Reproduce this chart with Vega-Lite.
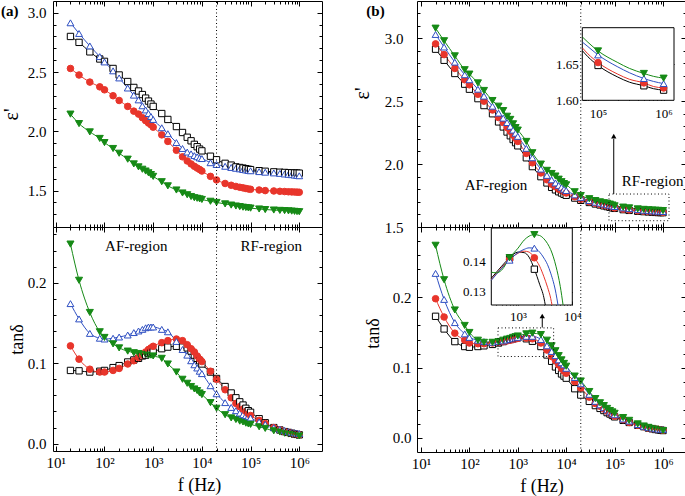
{
"$schema": "https://vega.github.io/schema/vega-lite/v6.json",
"padding": {"left": 0, "top": 0, "right": 0, "bottom": 0},
"background": "white",
"config": {
 "view": {"stroke": "black", "strokeWidth": 1},
 "font": "Liberation Serif",
 "axis": {"labelFont": "Liberation Serif", "labelFontSize": 15, "labelColor": "black", "titleFont": "Liberation Serif", "titleFontSize": 18, "titleFontWeight": "normal", "titleColor": "black", "tickColor": "black", "tickWidth": 1, "domain": false, "grid": false, "labelFlush": false, "labelOverlap": false},
 "legend": {"titleFont": "Liberation Serif", "titleFontSize": 15, "titleFontWeight": "normal", "titleColor": "black", "labelFont": "Liberation Serif", "labelFontSize": 15, "labelColor": "black"},
 "text": {"font": "Liberation Serif"}
},
"datasets": {
 "ae": [
{"f":20,"0":2.8,"1":2.53,"3":2.915,"5":2.145},
{"f":30,"0":2.75,"1":2.475,"3":2.825,"5":2.065},
{"f":50,"0":2.67,"1":2.415,"3":2.72,"5":1.995},
{"f":80,"0":2.61,"1":2.375,"3":2.63,"5":1.94},
{"f":100,"0":2.59,"1":2.35,"3":2.585,"5":1.905},
{"f":150,"0":2.53,"1":2.3,"3":2.51,"5":1.855},
{"f":200,"0":2.475,"1":2.26,"3":2.45,"5":1.815},
{"f":300,"0":2.42,"1":2.21,"3":2.365,"5":1.765},
{"f":400,"0":2.37,"1":2.17,"3":2.305,"5":1.725},
{"f":500,"0":2.34,"1":2.145,"3":2.265,"5":1.7},
{"f":600,"0":2.31,"1":2.115,"3":2.215,"5":1.68},
{"f":700,"0":2.28,"1":2.09,"3":2.18,"5":1.665},
{"f":800,"0":2.255,"1":2.07,"3":2.15,"5":1.65},
{"f":900,"0":2.23,"1":2.055,"3":2.125,"5":1.635},
{"f":1000,"0":2.21,"1":2.035,"3":2.1,"5":1.62},
{"f":1500,"0":2.15,"1":1.97,"3":2.03,"5":1.575},
{"f":2000,"0":2.1,"1":1.915,"3":1.98,"5":1.54},
{"f":3000,"0":2.04,"1":1.84,"3":1.905,"5":1.505},
{"f":4000,"0":1.99,"1":1.785,"3":1.855,"5":1.48},
{"f":5000,"0":1.95,"1":1.75,"3":1.825,"5":1.465},
{"f":6000,"0":1.92,"1":1.725,"3":1.81,"5":1.45},
{"f":7000,"0":1.89,"1":1.705,"3":1.795,"5":1.44},
{"f":8000,"0":1.87,"1":1.69,"3":1.785,"5":1.435},
{"f":9000,"0":1.85,"1":1.678,"3":1.775,"5":1.43},
{"f":10000,"0":1.835,"1":1.665,"3":1.77,"5":1.425},
{"f":15000,"0":1.79,"1":1.62,"3":1.735,"5":1.41},
{"f":20000,"0":1.76,"1":1.59,"3":1.72,"5":1.4},
{"f":30000,"0":1.73,"1":1.56,"3":1.705,"5":1.388},
{"f":40000,"0":1.715,"1":1.545,"3":1.695,"5":1.378},
{"f":50000,"0":1.7,"1":1.535,"3":1.688,"5":1.37},
{"f":60000,"0":1.695,"1":1.528,"3":1.683,"5":1.365},
{"f":70000,"0":1.69,"1":1.523,"3":1.678,"5":1.36},
{"f":80000,"0":1.685,"1":1.518,"3":1.674,"5":1.357},
{"f":90000,"0":1.68,"1":1.514,"3":1.67,"5":1.354},
{"f":100000,"0":1.677,"1":1.511,"3":1.667,"5":1.352},
{"f":150000,"0":1.668,"1":1.505,"3":1.66,"5":1.345},
{"f":200000,"0":1.663,"1":1.5,"3":1.655,"5":1.34},
{"f":300000,"0":1.658,"1":1.497,"3":1.649,"5":1.336},
{"f":400000,"0":1.655,"1":1.494,"3":1.645,"5":1.333},
{"f":500000,"0":1.653,"1":1.492,"3":1.64,"5":1.331},
{"f":600000,"0":1.651,"1":1.49,"3":1.637,"5":1.329},
{"f":700000,"0":1.65,"1":1.489,"3":1.634,"5":1.327},
{"f":800000,"0":1.649,"1":1.488,"3":1.631,"5":1.325},
{"f":900000,"0":1.648,"1":1.487,"3":1.628,"5":1.323},
{"f":1000000,"0":1.647,"1":1.486,"3":1.625,"5":1.322}
 ],
 "at": [
{"f":20,"0":0.091,"1":0.1215,"3":0.174,"5":0.248},
{"f":30,"0":0.0905,"1":0.105,"3":0.155,"5":0.203},
{"f":50,"0":0.089,"1":0.0925,"3":0.137,"5":0.163},
{"f":80,"0":0.09,"1":0.089,"3":0.131,"5":0.139},
{"f":100,"0":0.091,"1":0.089,"3":0.13,"5":0.132},
{"f":150,"0":0.0945,"1":0.091,"3":0.131,"5":0.124},
{"f":200,"0":0.097,"1":0.0935,"3":0.1325,"5":0.119},
{"f":300,"0":0.1015,"1":0.099,"3":0.135,"5":0.115},
{"f":400,"0":0.104,"1":0.103,"3":0.138,"5":0.113},
{"f":500,"0":0.106,"1":0.107,"3":0.14,"5":0.112},
{"f":600,"0":0.109,"1":0.11,"3":0.142,"5":0.111},
{"f":700,"0":0.11,"1":0.114,"3":0.144,"5":0.111},
{"f":800,"0":0.112,"1":0.117,"3":0.145,"5":0.11},
{"f":900,"0":0.113,"1":0.119,"3":0.145,"5":0.11},
{"f":1000,"0":0.114,"1":0.121,"3":0.145,"5":0.109},
{"f":1500,"0":0.118,"1":0.1255,"3":0.142,"5":0.106},
{"f":2000,"0":0.12,"1":0.128,"3":0.139,"5":0.099},
{"f":3000,"0":0.121,"1":0.13,"3":0.127,"5":0.089},
{"f":4000,"0":0.12,"1":0.128,"3":0.117,"5":0.08},
{"f":5000,"0":0.119,"1":0.123,"3":0.11,"5":0.075},
{"f":6000,"0":0.115,"1":0.118,"3":0.103,"5":0.071},
{"f":7000,"0":0.11,"1":0.114,"3":0.098,"5":0.068},
{"f":8000,"0":0.106,"1":0.109,"3":0.094,"5":0.066},
{"f":9000,"0":0.103,"1":0.105,"3":0.09,"5":0.063},
{"f":10000,"0":0.099,"1":0.102,"3":0.087,"5":0.061},
{"f":15000,"0":0.089,"1":0.09,"3":0.072,"5":0.051},
{"f":20000,"0":0.081,"1":0.08,"3":0.062,"5":0.044},
{"f":30000,"0":0.071,"1":0.067,"3":0.051,"5":0.036},
{"f":40000,"0":0.063,"1":0.057,"3":0.045,"5":0.032},
{"f":50000,"0":0.057,"1":0.05,"3":0.041,"5":0.03},
{"f":60000,"0":0.052,"1":0.046,"3":0.038,"5":0.028},
{"f":70000,"0":0.048,"1":0.043,"3":0.036,"5":0.027},
{"f":80000,"0":0.044,"1":0.04,"3":0.035,"5":0.0255},
{"f":90000,"0":0.041,"1":0.037,"3":0.034,"5":0.0245},
{"f":100000,"0":0.039,"1":0.035,"3":0.032,"5":0.024},
{"f":150000,"0":0.031,"1":0.029,"3":0.027,"5":0.021},
{"f":200000,"0":0.026,"1":0.025,"3":0.024,"5":0.019},
{"f":300000,"0":0.02,"1":0.02,"3":0.02,"5":0.016},
{"f":400000,"0":0.017,"1":0.017,"3":0.018,"5":0.0145},
{"f":500000,"0":0.015,"1":0.015,"3":0.0165,"5":0.013},
{"f":600000,"0":0.014,"1":0.014,"3":0.015,"5":0.012},
{"f":700000,"0":0.013,"1":0.013,"3":0.014,"5":0.0115},
{"f":800000,"0":0.012,"1":0.012,"3":0.0135,"5":0.011},
{"f":900000,"0":0.0115,"1":0.0115,"3":0.013,"5":0.0102},
{"f":1000000,"0":0.011,"1":0.011,"3":0.0125,"5":0.0096}
 ],
 "be": [
{"f":20,"30":2.913,"40":2.955,"50":3.03,"60":3.08},
{"f":30,"30":2.825,"40":2.87,"50":2.93,"60":2.98},
{"f":50,"30":2.72,"40":2.76,"50":2.81,"60":2.86},
{"f":80,"30":2.635,"40":2.67,"50":2.71,"60":2.75},
{"f":100,"30":2.595,"40":2.63,"50":2.67,"60":2.715},
{"f":150,"30":2.52,"40":2.555,"50":2.595,"60":2.645},
{"f":200,"30":2.465,"40":2.5,"50":2.54,"60":2.585},
{"f":300,"30":2.4,"40":2.43,"50":2.46,"60":2.505},
{"f":400,"30":2.335,"40":2.37,"50":2.405,"60":2.46},
{"f":500,"30":2.295,"40":2.33,"50":2.365,"60":2.425},
{"f":600,"30":2.255,"40":2.29,"50":2.33,"60":2.38},
{"f":700,"30":2.225,"40":2.26,"50":2.3,"60":2.355},
{"f":800,"30":2.195,"40":2.23,"50":2.27,"60":2.32},
{"f":900,"30":2.17,"40":2.205,"50":2.245,"60":2.29},
{"f":1000,"30":2.145,"40":2.18,"50":2.22,"60":2.27},
{"f":1500,"30":2.05,"40":2.085,"50":2.125,"60":2.18},
{"f":2000,"30":1.98,"40":2.01,"50":2.05,"60":2.09},
{"f":3000,"30":1.9,"40":1.93,"50":1.96,"60":2.0},
{"f":4000,"30":1.85,"40":1.875,"50":1.91,"60":1.95},
{"f":5000,"30":1.815,"40":1.84,"50":1.875,"60":1.925},
{"f":6000,"30":1.795,"40":1.82,"50":1.85,"60":1.905},
{"f":7000,"30":1.78,"40":1.8,"50":1.83,"60":1.88},
{"f":8000,"30":1.77,"40":1.79,"50":1.815,"60":1.86},
{"f":9000,"30":1.76,"40":1.78,"50":1.8,"60":1.845},
{"f":10000,"30":1.752,"40":1.77,"50":1.79,"60":1.835},
{"f":15000,"30":1.73,"40":1.74,"50":1.755,"60":1.78},
{"f":20000,"30":1.712,"40":1.72,"50":1.735,"60":1.75},
{"f":30000,"30":1.695,"40":1.7,"50":1.71,"60":1.725},
{"f":40000,"30":1.683,"40":1.688,"50":1.697,"60":1.71},
{"f":50000,"30":1.675,"40":1.679,"50":1.69,"60":1.7},
{"f":60000,"30":1.668,"40":1.672,"50":1.683,"60":1.693},
{"f":70000,"30":1.662,"40":1.666,"50":1.677,"60":1.688},
{"f":80000,"30":1.657,"40":1.661,"50":1.672,"60":1.682},
{"f":90000,"30":1.652,"40":1.656,"50":1.667,"60":1.675},
{"f":100000,"30":1.648,"40":1.652,"50":1.6625,"60":1.668},
{"f":150000,"30":1.638,"40":1.642,"50":1.652,"60":1.658},
{"f":200000,"30":1.632,"40":1.636,"50":1.646,"60":1.652},
{"f":300000,"30":1.625,"40":1.629,"50":1.638,"60":1.644},
{"f":400000,"30":1.622,"40":1.626,"50":1.633,"60":1.64},
{"f":500000,"30":1.62,"40":1.624,"50":1.63,"60":1.637},
{"f":600000,"30":1.618,"40":1.621,"50":1.628,"60":1.635},
{"f":700000,"30":1.616,"40":1.619,"50":1.626,"60":1.633},
{"f":800000,"30":1.615,"40":1.618,"50":1.625,"60":1.632},
{"f":900000,"30":1.6145,"40":1.6175,"50":1.624,"60":1.631},
{"f":1000000,"30":1.614,"40":1.617,"50":1.623,"60":1.6305}
 ],
 "bt": [
{"f":20,"30":0.173,"40":0.198,"50":0.234,"60":0.274},
{"f":30,"30":0.155,"40":0.172,"50":0.197,"60":0.225},
{"f":50,"30":0.137,"40":0.149,"50":0.164,"60":0.182},
{"f":80,"30":0.13,"40":0.139,"50":0.148,"60":0.16},
{"f":100,"30":0.129,"40":0.135,"50":0.143,"60":0.15},
{"f":150,"30":0.13,"40":0.134,"50":0.139,"60":0.139},
{"f":200,"30":0.131,"40":0.134,"50":0.137,"60":0.136},
{"f":300,"30":0.133,"40":0.135,"50":0.136,"60":0.136},
{"f":400,"30":0.135,"40":0.136,"50":0.137,"60":0.137},
{"f":500,"30":0.137,"40":0.137,"50":0.138,"60":0.139},
{"f":600,"30":0.139,"40":0.138,"50":0.139,"60":0.1405},
{"f":700,"30":0.14,"40":0.139,"50":0.14,"60":0.1415},
{"f":800,"30":0.141,"40":0.14,"50":0.141,"60":0.143},
{"f":900,"30":0.142,"40":0.141,"50":0.142,"60":0.144},
{"f":1000,"30":0.1425,"40":0.1415,"50":0.143,"60":0.145},
{"f":1500,"30":0.141,"40":0.142,"50":0.1445,"60":0.148},
{"f":2000,"30":0.1375,"40":0.141,"50":0.1445,"60":0.149},
{"f":3000,"30":0.13,"40":0.135,"50":0.14,"60":0.147},
{"f":4000,"30":0.118,"40":0.125,"50":0.131,"60":0.139},
{"f":5000,"30":0.109,"40":0.116,"50":0.123,"60":0.131},
{"f":6000,"30":0.101,"40":0.11,"50":0.117,"60":0.124},
{"f":7000,"30":0.096,"40":0.104,"50":0.111,"60":0.117},
{"f":8000,"30":0.091,"40":0.099,"50":0.107,"60":0.111},
{"f":9000,"30":0.088,"40":0.095,"50":0.104,"60":0.106},
{"f":10000,"30":0.085,"40":0.092,"50":0.099,"60":0.102},
{"f":15000,"30":0.07,"40":0.08,"50":0.086,"60":0.088},
{"f":20000,"30":0.061,"40":0.071,"50":0.077,"60":0.081},
{"f":30000,"30":0.052,"40":0.058,"50":0.062,"60":0.066},
{"f":40000,"30":0.046,"40":0.049,"50":0.052,"60":0.056},
{"f":50000,"30":0.042,"40":0.045,"50":0.047,"60":0.05},
{"f":60000,"30":0.039,"40":0.041,"50":0.043,"60":0.046},
{"f":70000,"30":0.036,"40":0.038,"50":0.04,"60":0.042},
{"f":80000,"30":0.034,"40":0.035,"50":0.037,"60":0.039},
{"f":90000,"30":0.032,"40":0.033,"50":0.035,"60":0.037},
{"f":100000,"30":0.03,"40":0.031,"50":0.033,"60":0.035},
{"f":150000,"30":0.025,"40":0.026,"50":0.027,"60":0.029},
{"f":200000,"30":0.022,"40":0.022,"50":0.024,"60":0.025},
{"f":300000,"30":0.018,"40":0.018,"50":0.019,"60":0.02},
{"f":400000,"30":0.016,"40":0.016,"50":0.0165,"60":0.017},
{"f":500000,"30":0.014,"40":0.014,"50":0.015,"60":0.015},
{"f":600000,"30":0.013,"40":0.013,"50":0.014,"60":0.0135},
{"f":700000,"30":0.012,"40":0.0125,"50":0.013,"60":0.0125},
{"f":800000,"30":0.0115,"40":0.012,"50":0.0125,"60":0.0118},
{"f":900000,"30":0.011,"40":0.0115,"50":0.012,"60":0.011},
{"f":1000000,"30":0.0105,"40":0.011,"50":0.012,"60":0.0105}
 ],
 "ie": [
{"f":58000,"30":1.668,"40":1.672,"50":1.68,"60":1.687},
{"f":70000,"30":1.66,"40":1.664,"50":1.674,"60":1.68},
{"f":100000,"30":1.648,"40":1.652,"50":1.6625,"60":1.668},
{"f":200000,"30":1.632,"40":1.636,"50":1.646,"60":1.652},
{"f":300000,"30":1.625,"40":1.629,"50":1.638,"60":1.644},
{"f":500000,"30":1.62,"40":1.624,"50":1.63,"60":1.637},
{"f":700000,"30":1.616,"40":1.619,"50":1.626,"60":1.633},
{"f":1000000,"30":1.614,"40":1.617,"50":1.623,"60":1.6305}
 ],
 "it": [
{"f":322,"30":0.1345,"40":0.134,"50":0.1338,"60":0.1365},
{"f":400,"30":0.1365,"40":0.136,"50":0.1358,"60":0.1363},
{"f":500,"30":0.1385,"40":0.138,"50":0.1378,"60":0.1372},
{"f":700,"30":0.1413,"40":0.1408,"50":0.1405,"60":0.1413},
{"f":1000,"30":0.1432,"40":0.1428,"50":0.143,"60":0.1445},
{"f":1300,"30":0.143,"40":0.1435,"50":0.1441,"60":0.1472},
{"f":1600,"30":0.1415,"40":0.1432,"50":0.1446,"60":0.1485},
{"f":2000,"30":0.1375,"40":0.1413,"50":0.1445,"60":0.149},
{"f":2500,"30":0.1325,"40":0.1385,"50":0.1432,"60":0.1487},
{"f":3000,"30":0.128,"40":0.135,"50":0.1412,"60":0.1476},
{"f":3180,"30":0.1256,"40":null,"50":null,"60":null},
{"f":3500,"30":null,"40":0.1315,"50":0.139,"60":0.146},
{"f":4000,"30":null,"40":0.1278,"50":0.1362,"60":0.144},
{"f":4230,"30":null,"40":0.1256,"50":null,"60":null},
{"f":5000,"30":null,"40":null,"50":0.1295,"60":0.1385},
{"f":5450,"30":null,"40":null,"50":0.1256,"60":null},
{"f":6000,"30":null,"40":null,"50":null,"60":0.1318},
{"f":6760,"30":null,"40":null,"50":null,"60":0.1256}
 ]
},
"spacing": 28,
"resolve": {"scale": {"stroke": "independent", "fill": "independent", "shape": "independent", "size": "independent"}},
"hconcat": [
{
 "spacing": 0, "bounds": "flush",
 "resolve": {"scale": {"stroke": "independent", "fill": "independent", "shape": "independent", "size": "independent"}},
 "vconcat": [
 {
  "width": 269, "height": 226,
  "resolve": {"scale": {"x": "independent", "y": "independent"}},
  "layer": [
   {
    "data": {"name": "ae"},
    "transform": [{"fold": ["0","1","3","5"], "as": ["s","v"]}],
    "mark": {"type": "line", "strokeWidth": 1, "interpolate": "monotone"},
    "encoding": {
     "x": {"field": "f", "type": "quantitative", "scale": {"type": "log", "domain": [8.76, 2930000], "nice": false}, "axis": {"orient": "bottom", "values": [10,100,1000,10000,100000,1000000], "tickSize": -5, "labels": false, "title": null}},
     "y": {"field": "v", "type": "quantitative", "scale": {"domain": [1.193, 3.099], "nice": false, "zero": false}, "axis": {"orient": "left", "values": [1.5,2,2.5,3], "format": ".1f", "tickSize": -5, "labelPadding": 12, "title": "ε'", "titleFontSize": 20, "titlePadding": 6}},
     "stroke": {"field": "s", "type": "nominal", "scale": {"domain": ["0","1","3","5"], "range": ["#000000","#e8352b","#2e4fc2","#168a16"]}, "legend": null}
    }
   },
   {
    "data": {"name": "ae"},
    "transform": [{"fold": ["0","1","3","5"], "as": ["s","v"]}],
    "mark": {"type": "point", "opacity": 1, "strokeWidth": 1},
    "encoding": {
     "x": {"field": "f", "type": "quantitative", "scale": {"type": "log", "domain": [8.76, 2930000], "nice": false}, "axis": {"orient": "bottom", "values": [20,30,40,50,60,70,80,90,200,300,400,500,600,700,800,900,2000,3000,4000,5000,6000,7000,8000,9000,20000,30000,40000,50000,60000,70000,80000,90000,200000,300000,400000,500000,600000,700000,800000,900000], "tickSize": -3, "labels": false, "title": null}},
     "y": {"field": "v", "type": "quantitative", "scale": {"domain": [1.193, 3.099], "nice": false, "zero": false}, "axis": {"orient": "left", "values": [1.3,1.4,1.6,1.7,1.8,1.9,2.1,2.2,2.3,2.4,2.6,2.7,2.8,2.9], "tickSize": -3, "labels": false, "title": null}},
     "stroke": {"field": "s", "type": "nominal", "scale": {"domain": ["0","1","3","5"], "range": ["#000000","#e8352b","#2e4fc2","#168a16"]}, "legend": null},
     "fill": {"field": "s", "type": "nominal", "scale": {"domain": ["0","1","3","5"], "range": ["#ffffff","#e8352b","#ffffff","#168a16"]}, "legend": null},
     "size": {"field": "s", "type": "nominal", "scale": {"domain": ["0","1","3","5"], "range": [40,50,65,65]}, "legend": null},
     "shape": {"field": "s", "type": "nominal", "scale": {"domain": ["0","1","3","5"], "range": ["square","circle","triangle-up","triangle-down"]},
      "legend": {"orient": "none", "legendX": 224, "legendY": 14.5, "title": "x (wt%)", "titleAnchor": "middle", "titlePadding": 0, "labelOffset": 16, "rowPadding": 3.3, "symbolSize": 64, "padding": 0,
       "encode": {"symbols": {"update": {
        "shape": {"signal": "datum.value === '0' ? 'M-3.5,0H-1M1,0H3.5M-1,-1H1V1H-1Z' : datum.value === '1' ? 'M-3.5,0H3.5M-1.05,0A1.05,1.05,0,1,1,1.05,0A1.05,1.05,0,1,1,-1.05,0Z' : datum.value === '3' ? 'M-3.5,0H-0.63M0.63,0H3.5M-1.15,0.9L0,-1.1L1.15,0.9Z' : 'M-3.5,0H3.5M-1.15,-0.9L0,1.1L1.15,-0.9Z'"},
        "fill": {"signal": "datum.value === '1' ? '#e8352b' : datum.value === '5' ? '#168a16' : '#ffffff'"},
        "stroke": {"signal": "datum.value === '0' ? '#000000' : datum.value === '1' ? '#e8352b' : datum.value === '3' ? '#2e4fc2' : '#168a16'"},
        "strokeWidth": {"value": 1}, "size": {"value": 64}, "opacity": {"value": 1}}}}}}
    }
   },
   {
    "data": {"values": [{"f": 20000}]},
    "mark": {"type": "rule", "color": "black", "strokeWidth": 1, "strokeDash": [1, 2.5]},
    "encoding": {
     "x": {"field": "f", "type": "quantitative", "scale": {"type": "log", "domain": [8.76, 2930000], "nice": false}, "axis": {"orient": "top", "values": [10,100,1000,10000,100000,1000000], "tickSize": -5, "labels": false, "title": null}},
     "y": {"datum": 1.193, "type": "quantitative", "scale": {"domain": [1.193, 3.099], "nice": false, "zero": false}, "axis": {"orient": "right", "values": [1.5,2,2.5,3], "tickSize": -5, "labels": false, "title": null}},
     "y2": {"datum": 3.099}
    }
   },
   {
    "data": {"values": [{"label": "(a)", "f": 1.135, "v": 3.014}]},
    "mark": {"type": "text", "fontSize": 15, "fontWeight": "bold", "font": "Liberation Serif", "baseline": "middle", "align": "center"},
    "encoding": {
     "x": {"field": "f", "type": "quantitative", "scale": {"type": "log", "domain": [8.76, 2930000], "nice": false}, "axis": {"orient": "top", "values": [20,30,40,50,60,70,80,90,200,300,400,500,600,700,800,900,2000,3000,4000,5000,6000,7000,8000,9000,20000,30000,40000,50000,60000,70000,80000,90000,200000,300000,400000,500000,600000,700000,800000,900000], "tickSize": -3, "labels": false, "title": null}},
     "y": {"field": "v", "type": "quantitative", "scale": {"domain": [1.193, 3.099], "nice": false, "zero": false}, "axis": {"orient": "right", "values": [1.3,1.4,1.6,1.7,1.8,1.9,2.1,2.2,2.3,2.4,2.6,2.7,2.8,2.9], "tickSize": -3, "labels": false, "title": null}},
     "text": {"field": "label"}
    }
   }
  ]
 },
 {
  "width": 269, "height": 224,
  "resolve": {"scale": {"x": "independent", "y": "independent"}},
  "layer": [
   {
    "data": {"name": "at"},
    "transform": [{"fold": ["0","1","3","5"], "as": ["s","v"]}],
    "mark": {"type": "line", "strokeWidth": 1, "interpolate": "monotone"},
    "encoding": {
     "x": {"field": "f", "type": "quantitative", "scale": {"type": "log", "domain": [8.76, 2930000], "nice": false}, "axis": {"orient": "bottom", "values": [10,100,1000,10000,100000,1000000], "tickSize": -5, "labelPadding": 9, "labelExpr": "'10' + ['⁰','¹','²','³','⁴','⁵','⁶','⁷'][round(log(datum.value)/LN10)]", "title": "f (Hz)", "titleX": 146, "titlePadding": 6}},
     "y": {"field": "v", "type": "quantitative", "scale": {"domain": [-0.0091, 0.2692], "nice": false, "zero": false}, "axis": {"orient": "left", "values": [0,0.1,0.2], "format": ".1f", "tickSize": -5, "labelPadding": 12, "title": "tanδ", "titlePadding": 1}},
     "stroke": {"field": "s", "type": "nominal", "scale": {"domain": ["0","1","3","5"], "range": ["#000000","#e8352b","#2e4fc2","#168a16"]}, "legend": null}
    }
   },
   {
    "data": {"name": "at"},
    "transform": [{"fold": ["0","1","3","5"], "as": ["s","v"]}],
    "mark": {"type": "point", "opacity": 1, "strokeWidth": 1},
    "encoding": {
     "x": {"field": "f", "type": "quantitative", "scale": {"type": "log", "domain": [8.76, 2930000], "nice": false}, "axis": {"orient": "bottom", "values": [20,30,40,50,60,70,80,90,200,300,400,500,600,700,800,900,2000,3000,4000,5000,6000,7000,8000,9000,20000,30000,40000,50000,60000,70000,80000,90000,200000,300000,400000,500000,600000,700000,800000,900000], "tickSize": -3, "labels": false, "title": null}},
     "y": {"field": "v", "type": "quantitative", "scale": {"domain": [-0.0091, 0.2692], "nice": false, "zero": false}, "axis": {"orient": "left", "values": [0.02,0.04,0.06,0.08,0.12,0.14,0.16,0.18,0.22,0.24,0.26], "tickSize": -3, "labels": false, "title": null}},
     "stroke": {"field": "s", "type": "nominal", "scale": {"domain": ["0","1","3","5"], "range": ["#000000","#e8352b","#2e4fc2","#168a16"]}, "legend": null},
     "fill": {"field": "s", "type": "nominal", "scale": {"domain": ["0","1","3","5"], "range": ["#ffffff","#e8352b","#ffffff","#168a16"]}, "legend": null},
     "size": {"field": "s", "type": "nominal", "scale": {"domain": ["0","1","3","5"], "range": [40,50,65,65]}, "legend": null},
     "shape": {"field": "s", "type": "nominal", "scale": {"domain": ["0","1","3","5"], "range": ["square","circle","triangle-up","triangle-down"]}, "legend": null}
    }
   },
   {
    "data": {"values": [{"f": 20000}]},
    "mark": {"type": "rule", "color": "black", "strokeWidth": 1, "strokeDash": [1, 2.5]},
    "encoding": {
     "x": {"field": "f", "type": "quantitative", "scale": {"type": "log", "domain": [8.76, 2930000], "nice": false}, "axis": {"orient": "top", "values": [10,100,1000,10000,100000,1000000], "tickSize": -5, "labels": false, "title": null}},
     "y": {"datum": -0.0091, "type": "quantitative", "scale": {"domain": [-0.0091, 0.2692], "nice": false, "zero": false}, "axis": {"orient": "right", "values": [0,0.1,0.2], "tickSize": -5, "labels": false, "title": null}},
     "y2": {"datum": 0.2692}
    }
   },
   {
    "data": {"values": [{"label": "AF-region", "f": 450, "v": 0.2456}, {"label": "RF-region", "f": 266000, "v": 0.2456}]},
    "mark": {"type": "text", "fontSize": 15, "font": "Liberation Serif", "baseline": "middle", "align": "center"},
    "encoding": {
     "x": {"field": "f", "type": "quantitative", "scale": {"type": "log", "domain": [8.76, 2930000], "nice": false}, "axis": {"orient": "top", "values": [20,30,40,50,60,70,80,90,200,300,400,500,600,700,800,900,2000,3000,4000,5000,6000,7000,8000,9000,20000,30000,40000,50000,60000,70000,80000,90000,200000,300000,400000,500000,600000,700000,800000,900000], "tickSize": -3, "labels": false, "title": null}},
     "y": {"field": "v", "type": "quantitative", "scale": {"domain": [-0.0091, 0.2692], "nice": false, "zero": false}, "axis": {"orient": "right", "values": [0.02,0.04,0.06,0.08,0.12,0.14,0.16,0.18,0.22,0.24,0.26], "tickSize": -3, "labels": false, "title": null}},
     "text": {"field": "label"}
    }
   }
  ]
 }
 ]
},
{
 "spacing": 0, "bounds": "flush",
 "resolve": {"scale": {"stroke": "independent", "fill": "independent", "shape": "independent", "size": "independent"}},
 "vconcat": [
 {
  "width": 269, "height": 226,
  "resolve": {"scale": {"x": "independent", "y": "independent"}},
  "layer": [
   {
    "data": {"name": "be"},
    "transform": [{"fold": ["30","40","50","60"], "as": ["s","v"]}],
    "mark": {"type": "line", "strokeWidth": 1, "interpolate": "monotone"},
    "encoding": {
     "x": {"field": "f", "type": "quantitative", "scale": {"type": "log", "domain": [8.27, 2985000], "nice": false}, "axis": {"orient": "bottom", "values": [10,100,1000,10000,100000,1000000], "tickSize": -5, "labels": false, "title": null}},
     "y": {"field": "v", "type": "quantitative", "scale": {"domain": [1.5, 3.296], "nice": false, "zero": false}, "axis": {"orient": "left", "values": [1.5,2,2.5,3], "format": ".1f", "tickSize": -5, "labelPadding": 19, "title": "ε'", "titleFontSize": 20, "titlePadding": 12, "titleY": 92}},
     "stroke": {"field": "s", "type": "nominal", "scale": {"domain": ["30","40","50","60"], "range": ["#000000","#e8352b","#2e4fc2","#168a16"]}, "legend": null}
    }
   },
   {
    "data": {"name": "be"},
    "transform": [{"fold": ["30","40","50","60"], "as": ["s","v"]}],
    "mark": {"type": "point", "opacity": 1, "strokeWidth": 1},
    "encoding": {
     "x": {"field": "f", "type": "quantitative", "scale": {"type": "log", "domain": [8.27, 2985000], "nice": false}, "axis": {"orient": "bottom", "values": [20,30,40,50,60,70,80,90,200,300,400,500,600,700,800,900,2000,3000,4000,5000,6000,7000,8000,9000,20000,30000,40000,50000,60000,70000,80000,90000,200000,300000,400000,500000,600000,700000,800000,900000], "tickSize": -3, "labels": false, "title": null}},
     "y": {"field": "v", "type": "quantitative", "scale": {"domain": [1.5, 3.296], "nice": false, "zero": false}, "axis": {"orient": "left", "values": [1.6,1.7,1.8,1.9,2.1,2.2,2.3,2.4,2.6,2.7,2.8,2.9,3.1,3.2], "tickSize": -3, "labels": false, "title": null}},
     "stroke": {"field": "s", "type": "nominal", "scale": {"domain": ["30","40","50","60"], "range": ["#000000","#e8352b","#2e4fc2","#168a16"]}, "legend": null},
     "fill": {"field": "s", "type": "nominal", "scale": {"domain": ["30","40","50","60"], "range": ["#ffffff","#e8352b","#ffffff","#168a16"]}, "legend": null},
     "size": {"field": "s", "type": "nominal", "scale": {"domain": ["30","40","50","60"], "range": [40,50,65,65]}, "legend": null},
     "shape": {"field": "s", "type": "nominal", "scale": {"domain": ["30","40","50","60"], "range": ["square","circle","triangle-up","triangle-down"]}, "legend": null}
    }
   },
   {
    "data": {"values": [{"f": 20000}]},
    "mark": {"type": "rule", "color": "black", "strokeWidth": 1, "strokeDash": [1, 2.5]},
    "encoding": {
     "x": {"field": "f", "type": "quantitative", "scale": {"type": "log", "domain": [8.27, 2985000], "nice": false}, "axis": {"orient": "top", "values": [10,100,1000,10000,100000,1000000], "tickSize": -5, "labels": false, "title": null}},
     "y": {"datum": 1.5, "type": "quantitative", "scale": {"domain": [1.5, 3.296], "nice": false, "zero": false}, "axis": {"orient": "right", "values": [1.5,2,2.5,3], "tickSize": -5, "labels": false, "title": null}},
     "y2": {"datum": 3.296}
    }
   },
   {
    "data": {"values": [{"label": "AF-region", "f": 355, "v": 1.836}, {"label": "RF-region", "f": 612000, "v": 1.867}]},
    "mark": {"type": "text", "fontSize": 15, "font": "Liberation Serif", "baseline": "middle", "align": "center"},
    "encoding": {
     "x": {"field": "f", "type": "quantitative", "scale": {"type": "log", "domain": [8.27, 2985000], "nice": false}, "axis": {"orient": "top", "values": [20,30,40,50,60,70,80,90,200,300,400,500,600,700,800,900,2000,3000,4000,5000,6000,7000,8000,9000,20000,30000,40000,50000,60000,70000,80000,90000,200000,300000,400000,500000,600000,700000,800000,900000], "tickSize": -3, "labels": false, "title": null}},
     "y": {"field": "v", "type": "quantitative", "scale": {"domain": [1.5, 3.296], "nice": false, "zero": false}, "axis": {"orient": "right", "values": [1.6,1.7,1.8,1.9,2.1,2.2,2.3,2.4,2.6,2.7,2.8,2.9,3.1,3.2], "tickSize": -3, "labels": false, "title": null}},
     "text": {"field": "label"}
    }
   },
   {
    "data": {"values": [{"label": "(b)", "f": 1.15, "v": 3.217}]},
    "mark": {"type": "text", "fontSize": 15, "fontWeight": "bold", "font": "Liberation Serif", "baseline": "middle", "align": "center"},
    "encoding": {
     "x": {"field": "f", "type": "quantitative", "scale": {"type": "log", "domain": [8.27, 2985000], "nice": false}, "axis": null},
     "y": {"field": "v", "type": "quantitative", "scale": {"domain": [1.5, 3.296], "nice": false, "zero": false}, "axis": null},
     "text": {"field": "label"}
    }
   },
   {
    "data": {"values": [{"f1": 76500, "f2": 1330000, "v1": 1.55, "v2": 1.762}]},
    "mark": {"type": "rect", "filled": false, "stroke": "black", "strokeWidth": 1, "strokeDash": [1, 2.5]},
    "encoding": {
     "x": {"field": "f1", "type": "quantitative", "scale": {"type": "log", "domain": [8.27, 2985000], "nice": false}, "axis": null},
     "x2": {"field": "f2"},
     "y": {"field": "v1", "type": "quantitative", "scale": {"domain": [1.5, 3.296], "nice": false, "zero": false}, "axis": null},
     "y2": {"field": "v2"}
    }
   },
   {
    "data": {"values": [{"f": 96000, "v1": 1.762, "v2": 2.2}]},
    "mark": {"type": "rule", "color": "black", "strokeWidth": 1},
    "encoding": {
     "x": {"field": "f", "type": "quantitative", "scale": {"type": "log", "domain": [8.27, 2985000], "nice": false}, "axis": null},
     "y": {"field": "v1", "type": "quantitative", "scale": {"domain": [1.5, 3.296], "nice": false, "zero": false}, "axis": null},
     "y2": {"field": "v2"}
    }
   },
   {
    "data": {"values": [{"f": 96000, "v": 2.222}]},
    "mark": {"type": "point", "shape": "triangle-up", "filled": true, "color": "black", "size": 28, "opacity": 1},
    "encoding": {
     "x": {"field": "f", "type": "quantitative", "scale": {"type": "log", "domain": [8.27, 2985000], "nice": false}, "axis": null},
     "y": {"field": "v", "type": "quantitative", "scale": {"domain": [1.5, 3.296], "nice": false, "zero": false}, "axis": null}
    }
   },
   {
    "data": {"values": [{"f1": 57500, "f2": 1440000, "v1": 1.6, "v2": 1.7}]},
    "mark": {"type": "rect", "fill": "white", "stroke": "black", "strokeWidth": 1},
    "encoding": {
     "x": {"field": "f1", "type": "quantitative", "scale": {"type": "log", "domain": [57500, 1440000], "range": [165.3, 257], "nice": false}, "axis": {"orient": "top", "offset": -26.7, "values": [100000, 1000000], "tickSize": -4, "labels": false, "title": null}},
     "x2": {"field": "f2"},
     "y": {"field": "v1", "type": "quantitative", "scale": {"domain": [1.6, 1.7], "range": [99.3, 26.7], "nice": false, "zero": false}, "axis": {"orient": "right", "offset": -12, "values": [1.65], "tickSize": -4, "labels": false, "title": null}},
     "y2": {"field": "v2"}
    }
   },
   {
    "data": {"name": "ie"},
    "transform": [{"fold": ["30","40","50","60"], "as": ["s","v"]}],
    "mark": {"type": "line", "strokeWidth": 1, "interpolate": "monotone"},
    "encoding": {
     "x": {"field": "f", "type": "quantitative", "scale": {"type": "log", "domain": [57500, 1440000], "range": [165.3, 257], "nice": false}, "axis": {"orient": "bottom", "offset": -126.7, "values": [100000, 1000000], "tickSize": -4, "labelPadding": 11, "labelFontSize": 13, "labelExpr": "'10' + ['⁰','¹','²','³','⁴','⁵','⁶','⁷'][round(log(datum.value)/LN10)]", "title": null}},
     "y": {"field": "v", "type": "quantitative", "scale": {"domain": [1.6, 1.7], "range": [99.3, 26.7], "nice": false, "zero": false}, "axis": {"orient": "left", "offset": -165.3, "values": [1.6, 1.65], "format": ".2f", "tickSize": -4, "labelPadding": 8, "labelFontSize": 13, "title": null}},
     "stroke": {"field": "s", "type": "nominal", "scale": {"domain": ["30","40","50","60"], "range": ["#000000","#e8352b","#2e4fc2","#168a16"]}, "legend": null}
    }
   },
   {
    "data": {"name": "ie"},
    "transform": [{"fold": ["30","40","50","60"], "as": ["s","v"]}, {"filter": "datum.f === 100000 || datum.f === 500000 || datum.f === 1000000"}],
    "mark": {"type": "point", "opacity": 1, "strokeWidth": 1},
    "encoding": {
     "x": {"field": "f", "type": "quantitative", "scale": {"type": "log", "domain": [57500, 1440000], "range": [165.3, 257], "nice": false}, "axis": {"orient": "bottom", "offset": -126.7, "values": [60000,70000,80000,90000,200000,300000,400000,500000,600000,700000,800000,900000], "tickSize": -2.5, "labels": false, "title": null}},
     "y": {"field": "v", "type": "quantitative", "scale": {"domain": [1.6, 1.7], "range": [99.3, 26.7], "nice": false, "zero": false}, "axis": {"orient": "left", "offset": -165.3, "values": [1.6125,1.625,1.6375,1.6625,1.675,1.6875], "tickSize": -2.5, "labels": false, "title": null}},
     "stroke": {"field": "s", "type": "nominal", "scale": {"domain": ["30","40","50","60"], "range": ["#000000","#e8352b","#2e4fc2","#168a16"]}, "legend": null},
     "fill": {"field": "s", "type": "nominal", "scale": {"domain": ["30","40","50","60"], "range": ["#ffffff","#e8352b","#ffffff","#168a16"]}, "legend": null},
     "size": {"field": "s", "type": "nominal", "scale": {"domain": ["30","40","50","60"], "range": [40,50,65,65]}, "legend": null},
     "shape": {"field": "s", "type": "nominal", "scale": {"domain": ["30","40","50","60"], "range": ["square","circle","triangle-up","triangle-down"]}, "legend": null}
    }
   }
  ]
 },
 {
  "width": 269, "height": 225,
  "resolve": {"scale": {"x": "independent", "y": "independent"}},
  "layer": [
   {
    "data": {"name": "bt"},
    "transform": [{"fold": ["30","40","50","60"], "as": ["s","v"]}],
    "mark": {"type": "line", "strokeWidth": 1, "interpolate": "monotone"},
    "encoding": {
     "x": {"field": "f", "type": "quantitative", "scale": {"type": "log", "domain": [8.27, 2985000], "nice": false}, "axis": {"orient": "bottom", "values": [10,100,1000,10000,100000,1000000], "tickSize": -5, "labelPadding": 9, "labelExpr": "'10' + ['⁰','¹','²','³','⁴','⁵','⁶','⁷'][round(log(datum.value)/LN10)]", "title": "f (Hz)", "titleX": 124.5, "titlePadding": 6}},
     "y": {"field": "v", "type": "quantitative", "scale": {"domain": [-0.02, 0.3], "nice": false, "zero": false}, "axis": {"orient": "left", "values": [0,0.1,0.2], "format": ".1f", "tickSize": -5, "labelPadding": 11, "title": "tanδ", "titlePadding": 10, "titleY": 106}},
     "stroke": {"field": "s", "type": "nominal", "scale": {"domain": ["30","40","50","60"], "range": ["#000000","#e8352b","#2e4fc2","#168a16"]}, "legend": null}
    }
   },
   {
    "data": {"name": "bt"},
    "transform": [{"fold": ["30","40","50","60"], "as": ["s","v"]}],
    "mark": {"type": "point", "opacity": 1, "strokeWidth": 1},
    "encoding": {
     "x": {"field": "f", "type": "quantitative", "scale": {"type": "log", "domain": [8.27, 2985000], "nice": false}, "axis": {"orient": "bottom", "values": [20,30,40,50,60,70,80,90,200,300,400,500,600,700,800,900,2000,3000,4000,5000,6000,7000,8000,9000,20000,30000,40000,50000,60000,70000,80000,90000,200000,300000,400000,500000,600000,700000,800000,900000], "tickSize": -3, "labels": false, "title": null}},
     "y": {"field": "v", "type": "quantitative", "scale": {"domain": [-0.02, 0.3], "nice": false, "zero": false}, "axis": {"orient": "left", "values": [0.02,0.04,0.06,0.08,0.12,0.14,0.16,0.18,0.22,0.24,0.26,0.28], "tickSize": -3, "labels": false, "title": null}},
     "stroke": {"field": "s", "type": "nominal", "scale": {"domain": ["30","40","50","60"], "range": ["#000000","#e8352b","#2e4fc2","#168a16"]}, "legend": null},
     "fill": {"field": "s", "type": "nominal", "scale": {"domain": ["30","40","50","60"], "range": ["#ffffff","#e8352b","#ffffff","#168a16"]}, "legend": null},
     "size": {"field": "s", "type": "nominal", "scale": {"domain": ["30","40","50","60"], "range": [40,50,65,65]}, "legend": null},
     "shape": {"field": "s", "type": "nominal", "scale": {"domain": ["30","40","50","60"], "range": ["square","circle","triangle-up","triangle-down"]},
      "legend": {"orient": "none", "legendX": 222, "legendY": 13.5, "title": "T (°C)", "titleAnchor": "middle", "titlePadding": 0, "labelOffset": 16, "rowPadding": 1.7, "symbolSize": 64, "padding": 0,
       "encode": {"symbols": {"update": {
        "shape": {"signal": "datum.value === '30' ? 'M-3.5,0H-1M1,0H3.5M-1,-1H1V1H-1Z' : datum.value === '40' ? 'M-3.5,0H3.5M-1.05,0A1.05,1.05,0,1,1,1.05,0A1.05,1.05,0,1,1,-1.05,0Z' : datum.value === '50' ? 'M-3.5,0H-0.63M0.63,0H3.5M-1.15,0.9L0,-1.1L1.15,0.9Z' : 'M-3.5,0H3.5M-1.15,-0.9L0,1.1L1.15,-0.9Z'"},
        "fill": {"signal": "datum.value === '40' ? '#e8352b' : datum.value === '60' ? '#168a16' : '#ffffff'"},
        "stroke": {"signal": "datum.value === '30' ? '#000000' : datum.value === '40' ? '#e8352b' : datum.value === '50' ? '#2e4fc2' : '#168a16'"},
        "strokeWidth": {"value": 1}, "size": {"value": 64}, "opacity": {"value": 1}}}}}}
    }
   },
   {
    "data": {"values": [{"f": 20000}]},
    "mark": {"type": "rule", "color": "black", "strokeWidth": 1, "strokeDash": [1, 2.5]},
    "encoding": {
     "x": {"field": "f", "type": "quantitative", "scale": {"type": "log", "domain": [8.27, 2985000], "nice": false}, "axis": {"orient": "top", "values": [10,100,1000,10000,100000,1000000], "tickSize": -5, "labels": false, "title": null}},
     "y": {"datum": -0.02, "type": "quantitative", "scale": {"domain": [-0.02, 0.3], "nice": false, "zero": false}, "axis": {"orient": "right", "values": [0,0.1,0.2], "tickSize": -5, "labels": false, "title": null}},
     "y2": {"datum": 0.3}
    }
   },
   {
    "data": {"values": [{"f1": 390, "f2": 5500, "v1": 0.1158, "v2": 0.1565}]},
    "mark": {"type": "rect", "filled": false, "stroke": "black", "strokeWidth": 1, "strokeDash": [1, 2.5]},
    "encoding": {
     "x": {"field": "f1", "type": "quantitative", "scale": {"type": "log", "domain": [8.27, 2985000], "nice": false}, "axis": {"orient": "top", "values": [20,30,40,50,60,70,80,90,200,300,400,500,600,700,800,900,2000,3000,4000,5000,6000,7000,8000,9000,20000,30000,40000,50000,60000,70000,80000,90000,200000,300000,400000,500000,600000,700000,800000,900000], "tickSize": -3, "labels": false, "title": null}},
     "x2": {"field": "f2"},
     "y": {"field": "v1", "type": "quantitative", "scale": {"domain": [-0.02, 0.3], "nice": false, "zero": false}, "axis": {"orient": "right", "values": [0.02,0.04,0.06,0.08,0.12,0.14,0.16,0.18,0.22,0.24,0.26,0.28], "tickSize": -3, "labels": false, "title": null}},
     "y2": {"field": "v2"}
    }
   },
   {
    "data": {"values": [{"f": 3200, "v1": 0.157, "v2": 0.171}]},
    "mark": {"type": "rule", "color": "black", "strokeWidth": 1},
    "encoding": {
     "x": {"field": "f", "type": "quantitative", "scale": {"type": "log", "domain": [8.27, 2985000], "nice": false}, "axis": null},
     "y": {"field": "v1", "type": "quantitative", "scale": {"domain": [-0.02, 0.3], "nice": false, "zero": false}, "axis": null},
     "y2": {"field": "v2"}
    }
   },
   {
    "data": {"values": [{"f": 3200, "v": 0.1735}]},
    "mark": {"type": "point", "shape": "triangle-up", "filled": true, "color": "black", "size": 28, "opacity": 1},
    "encoding": {
     "x": {"field": "f", "type": "quantitative", "scale": {"type": "log", "domain": [8.27, 2985000], "nice": false}, "axis": null},
     "y": {"field": "v", "type": "quantitative", "scale": {"domain": [-0.02, 0.3], "nice": false, "zero": false}, "axis": null}
    }
   },
   {
    "data": {"values": [{"f1": 322, "f2": 10000, "v1": 0.1256, "v2": 0.1512}]},
    "mark": {"type": "rect", "fill": "white", "stroke": "black", "strokeWidth": 1},
    "encoding": {
     "x": {"field": "f1", "type": "quantitative", "scale": {"type": "log", "domain": [322, 10000], "range": [74.3, 155.3], "nice": false}, "axis": {"orient": "top", "offset": -1, "values": [1000], "tickSize": -4, "labels": false, "title": null}},
     "x2": {"field": "f2"},
     "y": {"field": "v1", "type": "quantitative", "scale": {"domain": [0.1256, 0.1512], "range": [78, 1], "nice": false, "zero": false}, "axis": {"orient": "right", "offset": -113.7, "values": [0.13, 0.14], "tickSize": -4, "labels": false, "title": null}},
     "y2": {"field": "v2"}
    }
   },
   {
    "data": {"name": "it"},
    "transform": [{"fold": ["30","40","50","60"], "as": ["s","v"]}, {"filter": "isValid(datum.v)"}],
    "mark": {"type": "line", "strokeWidth": 1, "interpolate": "monotone"},
    "encoding": {
     "x": {"field": "f", "type": "quantitative", "scale": {"type": "log", "domain": [322, 10000], "range": [74.3, 155.3], "nice": false}, "axis": {"orient": "bottom", "offset": -147, "values": [1000, 10000], "tickSize": -4, "labelPadding": 9, "labelFontSize": 13, "labelExpr": "'10' + ['⁰','¹','²','³','⁴','⁵','⁶','⁷'][round(log(datum.value)/LN10)]", "title": null}},
     "y": {"field": "v", "type": "quantitative", "scale": {"domain": [0.1256, 0.1512], "range": [78, 1], "nice": false, "zero": false}, "axis": {"orient": "left", "offset": -74.3, "values": [0.13, 0.14], "format": ".2f", "tickSize": -4, "labelPadding": 10, "labelFontSize": 13, "title": null}},
     "stroke": {"field": "s", "type": "nominal", "scale": {"domain": ["30","40","50","60"], "range": ["#000000","#e8352b","#2e4fc2","#168a16"]}, "legend": null}
    }
   },
   {
    "data": {"name": "it"},
    "transform": [{"fold": ["30","40","50","60"], "as": ["s","v"]}, {"filter": "isValid(datum.v) && (datum.f === 700 || datum.f === 2000)"}],
    "mark": {"type": "point", "opacity": 1, "strokeWidth": 1},
    "encoding": {
     "x": {"field": "f", "type": "quantitative", "scale": {"type": "log", "domain": [322, 10000], "range": [74.3, 155.3], "nice": false}, "axis": {"orient": "bottom", "offset": -147, "values": [400,500,600,700,800,900,2000,3000,4000,5000,6000,7000,8000,9000], "tickSize": -2.5, "labels": false, "title": null}},
     "y": {"field": "v", "type": "quantitative", "scale": {"domain": [0.1256, 0.1512], "range": [78, 1], "nice": false, "zero": false}, "axis": {"orient": "left", "offset": -74.3, "values": [0.135, 0.145], "tickSize": -2.5, "labels": false, "title": null}},
     "stroke": {"field": "s", "type": "nominal", "scale": {"domain": ["30","40","50","60"], "range": ["#000000","#e8352b","#2e4fc2","#168a16"]}, "legend": null},
     "fill": {"field": "s", "type": "nominal", "scale": {"domain": ["30","40","50","60"], "range": ["#ffffff","#e8352b","#ffffff","#168a16"]}, "legend": null},
     "size": {"field": "s", "type": "nominal", "scale": {"domain": ["30","40","50","60"], "range": [30,40,50,50]}, "legend": null},
     "shape": {"field": "s", "type": "nominal", "scale": {"domain": ["30","40","50","60"], "range": ["square","circle","triangle-up","triangle-down"]}, "legend": null}
    }
   }
  ]
 }
 ]
}
]
}
